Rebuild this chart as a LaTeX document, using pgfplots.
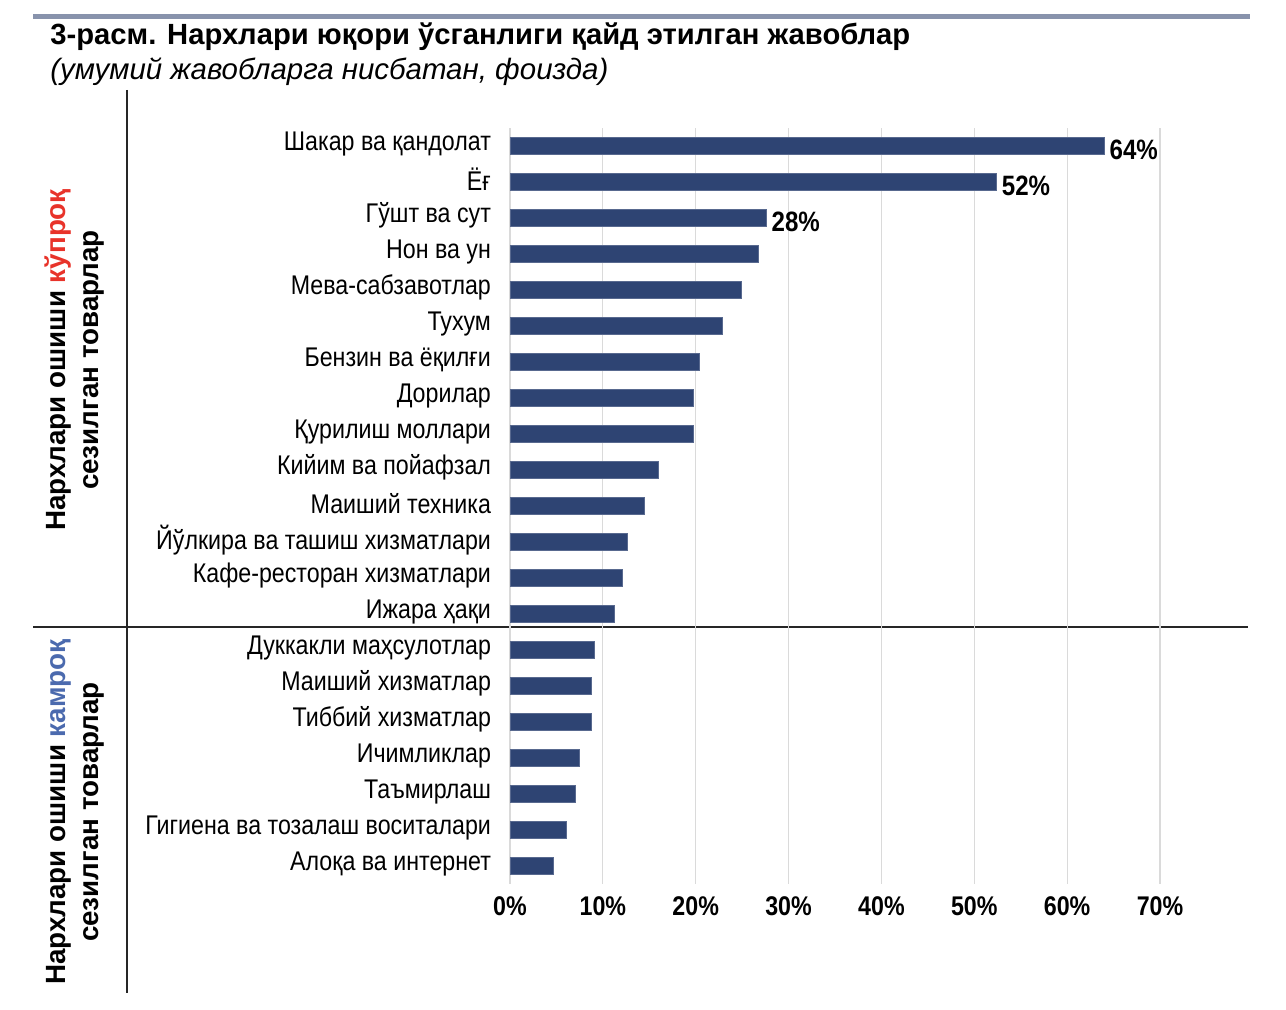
\documentclass[border=0pt]{standalone}
\usepackage{fontspec}
\setmainfont{Liberation Sans}
\newfontfamily\narrow[FakeStretch=0.86]{Liberation Sans}
\usepackage{pgfplots}
\pgfplotsset{compat=1.18}
\definecolor{barc}{HTML}{2E4473}
\definecolor{redc}{HTML}{E8332A}
\definecolor{bluec}{HTML}{4B6AAE}
\definecolor{bandc}{HTML}{8893AC}
\definecolor{gridc}{HTML}{DADADA}
\begin{document}
\begin{tikzpicture}
\path[use as bounding box] (0,0) rectangle (643pt,-505pt);
% top band
\fill[bandc] (16.5pt,-7pt) rectangle (625pt,-9.5pt);
% title
\node[anchor=base west,inner sep=0pt,font=\fontsize{14.6}{16}\selectfont\bfseries] at (25pt,-22.5pt) {3-расм. Нархлари юқори ўсганлиги қайд этилган жавоблар};
\node[anchor=base west,inner sep=0pt,font=\fontsize{14.7}{16}\selectfont\itshape] at (25pt,-40pt) {(умумий жавобларга нисбатан, фоизда)};
% separators
\draw[black!85,line width=0.8pt] (63.5pt,-45pt) -- (63.5pt,-496.5pt);
\draw[black!85,line width=0.8pt] (16.5pt,-313.5pt) -- (624pt,-313.5pt);
% group labels
\node[rotate=90,align=center,font=\fontsize{13.9}{16.5}\selectfont\bfseries] at (37.5pt,-180pt) {Нархлари ошиши \textcolor{redc}{кўпроқ}\\сезилган товарлар};
\node[rotate=90,align=center,font=\fontsize{13.9}{16.5}\selectfont\bfseries] at (37.5pt,-406pt) {Нархлари ошиши \textcolor{bluec}{камроқ}\\сезилган товарлар};
\begin{axis}[
  at={(255pt,-64pt)}, anchor=north west,
  scale only axis, width=325pt, height=378pt,
  xmin=0, xmax=70, ymin=-0.5, ymax=20.5, y dir=reverse,
  axis line style={draw=none},
  tick style={draw=none},
  xmajorgrids, grid style={gridc,line width=0.6pt},
  xtick={0,10,...,70},
  xticklabels={0\%,10\%,20\%,30\%,40\%,50\%,60\%,70\%},
  xticklabel style={font=\narrow\fontsize{13.5}{15}\selectfont\bfseries, yshift=-3pt},
  ytick={0,...,20},
  yticklabels={Шакар ва қандолат,Ёғ,Гўшт ва сут,Нон ва ун,Мева-сабзавотлар,Тухум,Бензин ва ёқилғи,Дорилар,Қурилиш моллари,Кийим ва пойафзал,Маиший техника,Йўлкира ва ташиш хизматлари,Кафе-ресторан хизматлари,Ижара ҳақи,Дуккакли маҳсулотлар,Маиший хизматлар,Тиббий хизматлар,Ичимликлар,Таъмирлаш,Гигиена ва тозалаш воситалари,Алоқа ва интернет},
  yticklabel style={font=\narrow\fontsize{13.5}{15}\selectfont, xshift=-6pt, yshift=1.2pt},
  clip=false,
]
\addplot[xbar, bar width=8.5pt, fill=barc, draw=barc!80] coordinates {
(64,0) (52.4,1) (27.6,2) (26.8,3) (24.9,4) (22.9,5) (20.4,6) (19.8,7) (19.8,8) (16.0,9) (14.5,10) (12.6,11) (12.1,12) (11.2,13) (9.1,14) (8.8,15) (8.8,16) (7.5,17) (7.0,18) (6.1,19) (4.7,20)
};
\addplot[draw=none, mark=none, nodes near coords, point meta=explicit symbolic,
  every node near coord/.style={anchor=west, inner sep=0pt, xshift=2.5pt, yshift=-2pt, font=\narrow\fontsize{14}{15}\selectfont\bfseries}]
  coordinates {(64,0) [64\%] (52.4,1) [52\%] (27.6,2) [28\%]};
\end{axis}
\end{tikzpicture}
\end{document}
